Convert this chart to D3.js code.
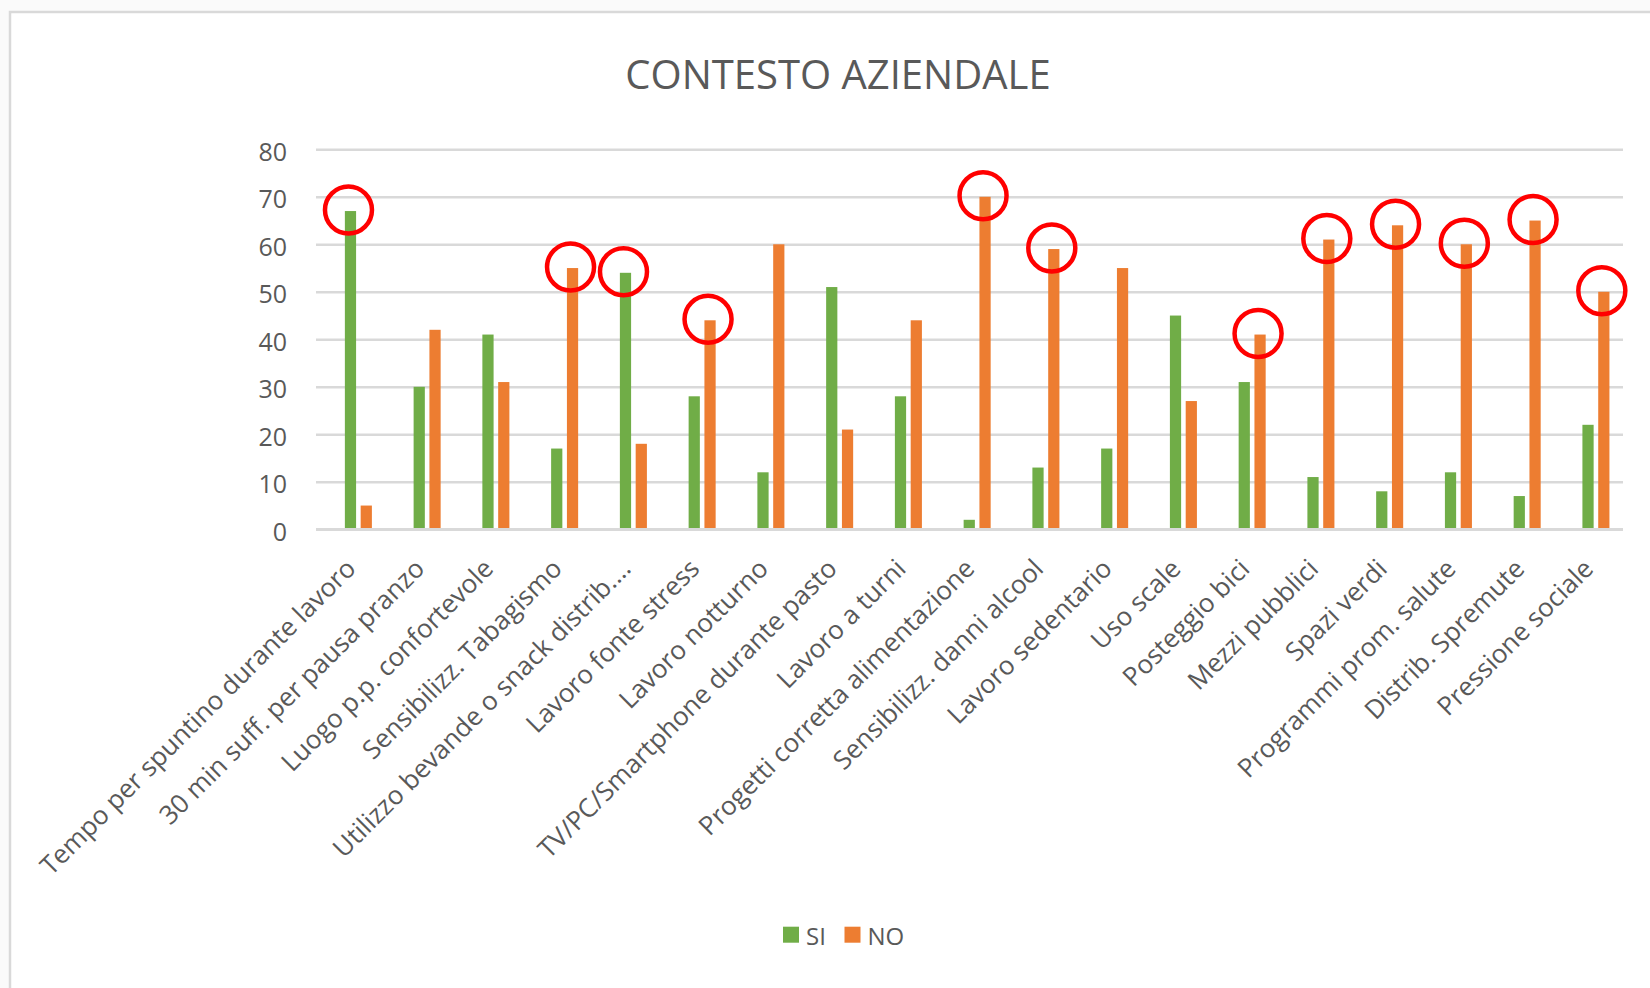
<!DOCTYPE html>
<html>
<head>
<meta charset="utf-8">
<script src="https://cdn.jsdelivr.net/npm/d3@7"></script>
<style>
  html, body { margin: 0; padding: 0; background: #fafafa; }
  svg { display: block; font-family: "Open Sans", sans-serif; }
</style>
</head>
<body>
<script>
// chart data
const categories = [
    "Tempo per spuntino durante lavoro",
    "30 min suff. per pausa pranzo",
    "Luogo p.p. confortevole",
    "Sensibilizz. Tabagismo",
    "Utilizzo bevande o snack distrib.…",
    "Lavoro fonte stress",
    "Lavoro notturno",
    "TV/PC/Smartphone durante pasto",
    "Lavoro a turni",
    "Progetti corretta alimentazione",
    "Sensibilizz. danni alcool",
    "Lavoro sedentario",
    "Uso scale",
    "Posteggio bici",
    "Mezzi pubblici",
    "Spazi verdi",
    "Programmi prom. salute",
    "Distrib. Spremute",
    "Pressione sociale"
];
const seriesNames = ["SI", "NO"];
const siValues = [67, 30, 41, 17, 54, 28, 12, 51, 28, 2, 13, 17, 45, 31, 11, 8, 12, 7, 22];
const noValues = [5, 42, 31, 55, 18, 44, 60, 21, 44, 70, 59, 55, 27, 41, 61, 64, 60, 65, 50];
const yTicks = [0, 10, 20, 30, 40, 50, 60, 70, 80];
// bars circled in red on the original
const circled = [
    [0, "SI"], [3, "NO"], [4, "SI"], [5, "NO"], [9, "NO"], [10, "NO"],
    [13, "NO"], [14, "NO"], [15, "NO"], [16, "NO"], [17, "NO"], [18, "NO"]
];

const w = 1650;
const h = 988;
const colors = { SI: "#70AD47", NO: "#ED7D31" };
const textColor = "#595959";
const gridColor = "#d9d9d9";

const data = categories.map((c, i) => ({ cat: c, SI: siValues[i], NO: noValues[i] }));

const svg = d3.select("body")
    .append("svg")
    .attr("width", w)
    .attr("height", h);

// chart frame
svg.append("rect")
    .attr("x", 10)
    .attr("y", 12)
    .attr("width", w + 50)
    .attr("height", h + 50)
    .attr("fill", "#ffffff")
    .attr("stroke", gridColor)
    .attr("stroke-width", 2.5);

// title
svg.append("text")
    .attr("x", 838)
    .attr("y", 89)
    .attr("text-anchor", "middle")
    .attr("fill", textColor)
    .style("font-size", "40px")
    .text("CONTESTO AZIENDALE");

// scales
const x0 = d3.scaleBand()
    .domain(categories)
    .range([324, 1630.3])
    .paddingInner(0.607)
    .paddingOuter(0.3035);

const x1 = d3.scaleBand()
    .domain(seriesNames)
    .range([0, x0.bandwidth()])
    .paddingInner(0.29);

const y = d3.scaleLinear()
    .domain([0, 80])
    .range([529.3, 149.3]);

// gridlines
const yAxis = d3.axisLeft(y)
    .tickValues(yTicks)
    .tickSize(-(1623 - 316))
    .tickPadding(29);

const yg = svg.append("g")
    .attr("transform", "translate(316,0)")
    .call(yAxis);
yg.select(".domain").remove();
yg.selectAll(".tick line")
    .attr("stroke", gridColor)
    .attr("stroke-width", 2.6);
yg.selectAll(".tick text")
    .attr("fill", textColor)
    .attr("dy", "0.32em")
    .attr("y", 3)
    .style("font-size", "25px")
    .style("font-family", "'Open Sans', sans-serif");

// bars
const groups = svg.append("g")
    .selectAll("g")
    .data(data)
    .enter()
    .append("g")
    .attr("transform", d => `translate(${x0(d.cat)},0)`);

groups.selectAll("rect")
    .data(d => seriesNames.map(s => ({ key: s, value: d[s] })))
    .enter()
    .append("rect")
    .attr("x", d => x1(d.key))
    .attr("y", d => y(d.value))
    .attr("width", x1.bandwidth())
    .attr("height", d => y(0) - y(d.value))
    .attr("fill", d => colors[d.key]);

// baseline
svg.append("line")
    .attr("x1", 316)
    .attr("x2", 1623)
    .attr("y1", y(0))
    .attr("y2", y(0))
    .attr("stroke", gridColor)
    .attr("stroke-width", 2.8);

// category labels
const xAxis = d3.axisBottom(x0).tickSize(0).tickPadding(0);
const xg = svg.append("g")
    .attr("transform", `translate(-1,${y(0)})`)
    .call(xAxis);
xg.select(".domain").remove();
xg.selectAll(".tick text")
    .attr("text-anchor", "end")
    .attr("dy", 0)
    .attr("y", 0)
    .attr("transform", "translate(0,41) rotate(-45)")
    .attr("fill", textColor)
    .style("font-size", "26px")
    .style("font-family", "'Open Sans', sans-serif");

// red circles
svg.append("g")
    .selectAll("circle")
    .data(circled)
    .enter()
    .append("circle")
    .attr("cx", d => x0(categories[d[0]]) + x1(d[1]) + x1.bandwidth() / 2 - 2)
    .attr("cy", d => y(d[1] === "SI" ? siValues[d[0]] : noValues[d[0]]) - 1)
    .attr("r", 23.5)
    .attr("fill", "none")
    .attr("stroke", "#ff0000")
    .attr("stroke-width", 4.5);

// legend
const legend = svg.append("g")
    .selectAll("g")
    .data(seriesNames)
    .enter()
    .append("g")
    .attr("transform", (d, i) => `translate(${i === 0 ? 783 : 844.5},0)`);

legend.append("rect")
    .attr("x", 0)
    .attr("y", 926.7)
    .attr("width", 16)
    .attr("height", 16)
    .attr("fill", d => colors[d]);

legend.append("text")
    .attr("x", 23)
    .attr("y", 945)
    .attr("fill", textColor)
    .style("font-size", "24px")
    .text(d => d);
</script>
</body>
</html>
